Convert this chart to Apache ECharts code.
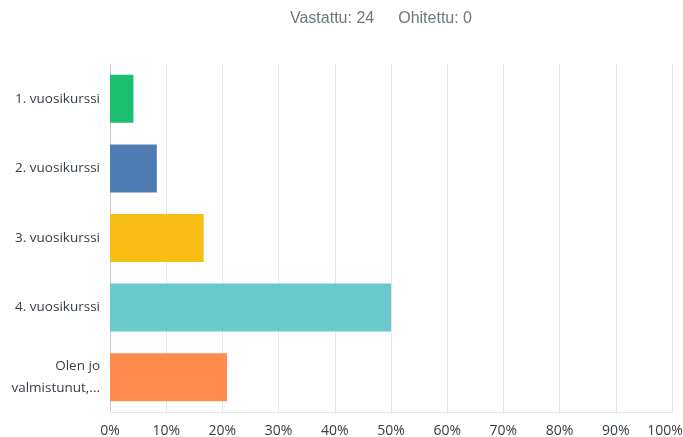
<!DOCTYPE html>
<html><head><meta charset="utf-8">
<script src="https://cdn.jsdelivr.net/npm/echarts@6/dist/echarts.min.js"></script>
<style>html,body{margin:0;padding:0;background:#fff}#c{width:683px;height:437px}</style>
</head><body><div id="c"></div>
<script>
const categories = ["1. vuosikurssi", "2. vuosikurssi", "3. vuosikurssi", "4. vuosikurssi", "Olen jo\nvalmistunut,..."];
const values = [4.17, 8.33, 16.67, 50.0, 20.83];
const colors = ["#1bbf6f", "#507cb6", "#f9be15", "#6bc8cd", "#ff8b4f"];
const titleParts = ["Vastattu: 24", "Ohitettu: 0"];
const chart = echarts.init(document.getElementById('c'), null, {renderer: 'canvas'});
chart.setOption({
  animation: false,
  title: {text: '{a|' + titleParts[0] + '}{b|' + titleParts[1] + '}', left: 376, top: 6, textAlign: 'center',
    textStyle: {fontWeight: 'normal', rich: {
      a: {fontFamily: 'Liberation Sans', fontSize: 16, fontWeight: 'normal', color: '#6b787f', padding: [0, 24, 0, 0]},
      b: {fontFamily: 'Liberation Sans', fontSize: 16, fontWeight: 'normal', color: '#6b787f'}}}},
  grid: {left: 110, right: 11, top: 64, bottom: 25, containLabel: false, outerBoundsMode: 'none'},
  xAxis: {type: 'value', min: 0, max: 100, interval: 10,
    axisLabel: {formatter: function (v) { return v === 100 ? '{last|100%}' : v + '%'; },
      fontFamily: 'Open Sans', fontSize: 14, color: '#333e48', margin: 12,
      rich: {last: {fontFamily: 'Open Sans', fontSize: 14, color: '#333e48', padding: [0, 14, 0, 0]}}},
    axisLine: {show: true, lineStyle: {color: '#e6e6e6'}},
    axisTick: {show: false},
    splitLine: {show: true, lineStyle: {color: '#e6e6e6'}}},
  yAxis: {type: 'category', data: categories, inverse: true,
    axisLabel: {fontFamily: 'Open Sans', fontSize: 13.5, color: '#333e48', margin: 10, lineHeight: 22, align: 'right'},
    axisLine: {show: true, lineStyle: {color: '#cccccc'}},
    axisTick: {show: false}},
  series: [{type: 'bar', barCategoryGap: '31%',
    data: values.map((v, i) => ({value: v, itemStyle: {color: colors[i]}}))}]
});
</script></body></html>
